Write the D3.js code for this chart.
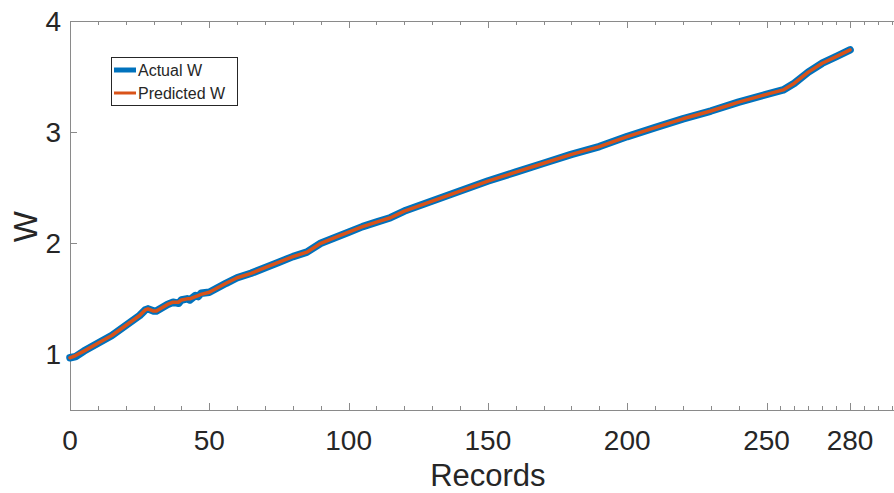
<!DOCTYPE html>
<html>
<head>
  <title>Actual vs Predicted W</title>
  <script src="https://cdn.jsdelivr.net/npm/d3@7/dist/d3.min.js"></script>
  <style>
    body { margin: 0; background: #fff; font-family: "Liberation Sans", Arial, sans-serif; overflow: hidden; }
  </style>
</head>
<body>
  <div id="container"></div>
  <script type="module">
    // values
    const records = [0, 2, 5, 10, 15, 20, 25, 27, 28, 30, 31, 33, 35, 37, 39, 40, 42, 43, 45, 46, 47, 50, 53, 56, 60,
      65, 70, 75, 80, 85, 90, 95, 100, 105, 110, 115, 120, 130, 140, 150, 160, 170, 180, 190, 200,
      210, 220, 230, 240, 250, 256, 260, 265, 270, 275, 280];
    const actualW = [0.97, 0.98, 1.03, 1.10, 1.17, 1.26, 1.35, 1.40, 1.41, 1.39, 1.39, 1.42, 1.45, 1.47, 1.46, 1.49, 1.50, 1.49, 1.53, 1.52, 1.55, 1.56, 1.60, 1.64, 1.69,
      1.73, 1.78, 1.83, 1.88, 1.92, 2.00, 2.05, 2.10, 2.15, 2.19, 2.23, 2.29, 2.38, 2.47, 2.56, 2.64, 2.72, 2.80, 2.87, 2.96,
      3.04, 3.12, 3.19, 3.27, 3.34, 3.38, 3.44, 3.54, 3.62, 3.68, 3.74];
    const predictedW = [0.97, 0.99, 1.03, 1.10, 1.17, 1.26, 1.35, 1.40, 1.41, 1.39, 1.39, 1.42, 1.45, 1.47, 1.47, 1.49, 1.50, 1.50, 1.52, 1.53, 1.54, 1.56, 1.60, 1.64, 1.69,
      1.73, 1.78, 1.83, 1.88, 1.92, 2.00, 2.05, 2.10, 2.15, 2.19, 2.23, 2.29, 2.38, 2.47, 2.56, 2.64, 2.72, 2.80, 2.87, 2.96,
      3.04, 3.12, 3.19, 3.27, 3.34, 3.38, 3.44, 3.54, 3.62, 3.68, 3.74];
    const xTicks = [0, 50, 100, 150, 200, 250, 280];
    const xMinor = [10, 20, 30, 40, 60, 70, 80, 90, 110, 120, 130, 140, 160, 170, 180, 190, 210, 220, 230, 240, 255, 260, 265, 270, 275, 285, 290, 295];
    const yTicks = [1, 2, 3, 4];
    const seriesNames = ["Actual W", "Predicted W"];

    const width = 894, height = 493;
    const left = 70, top = 21, bottom = 410;

    const svg = d3.select("#container").append("svg")
      .attr("width", width).attr("height", height);

    const x = d3.scaleLinear().domain([0, 300]).range([left, left + 300 * 2.786]);
    const y = d3.scaleLinear().domain([0.5, 4]).range([bottom, top]);

    const axisColor = "#8a8a8a";
    const textColor = "#262626";

    // box lines
    const plotRight = x(300);
    svg.append("line").attr("x1", left).attr("x2", plotRight).attr("y1", bottom + 0.5).attr("y2", bottom + 0.5)
      .attr("stroke", axisColor);
    svg.append("line").attr("x1", left).attr("x2", plotRight).attr("y1", top + 0.5).attr("y2", top + 0.5)
      .attr("stroke", axisColor);
    svg.append("line").attr("x1", left + 0.5).attr("x2", left + 0.5).attr("y1", top).attr("y2", bottom)
      .attr("stroke", axisColor);

    // ticks (pointing inward)
    const tickG = svg.append("g").attr("stroke", axisColor);
    [[xTicks, 7], [xMinor, 4]].forEach(([vals, len]) => {
      tickG.selectAll(null).data(vals).join("line")
        .attr("x1", d => Math.round(x(d)) + 0.5).attr("x2", d => Math.round(x(d)) + 0.5)
        .attr("y1", bottom).attr("y2", bottom - len);
      tickG.selectAll(null).data(vals).join("line")
        .attr("x1", d => Math.round(x(d)) + 0.5).attr("x2", d => Math.round(x(d)) + 0.5)
        .attr("y1", top).attr("y2", top + len);
    });
    tickG.selectAll(null).data(yTicks).join("line")
      .attr("x1", left).attr("x2", left + 7)
      .attr("y1", d => Math.round(y(d)) + 0.5).attr("y2", d => Math.round(y(d)) + 0.5);

    // tick labels
    svg.append("g").selectAll("text").data(xTicks).join("text")
      .attr("x", d => x(d)).attr("y", 450)
      .attr("text-anchor", "middle").attr("font-size", 28).attr("fill", textColor)
      .text(d => d);
    svg.append("g").selectAll("text").data(yTicks).join("text")
      .attr("x", 61).attr("y", d => y(d) + 10)
      .attr("text-anchor", "end").attr("font-size", 28).attr("fill", textColor)
      .text(d => d);

    // axis titles
    svg.append("text").attr("x", x(150)).attr("y", 486)
      .attr("text-anchor", "middle").attr("font-size", 31).attr("fill", textColor)
      .text("Records");
    svg.append("text").attr("transform", `translate(37,${y(2.15)}) rotate(-90)`)
      .attr("text-anchor", "middle").attr("font-size", 33).attr("fill", textColor)
      .text("W");

    // series
    const actual = records.map((r, i) => [r, actualW[i]]);
    const predicted = records.map((r, i) => [r, predictedW[i]]);
    const line = d3.line().x(d => x(d[0])).y(d => y(d[1]));

    svg.append("path").datum(actual).attr("d", line)
      .attr("fill", "none").attr("stroke", "#0072BD").attr("stroke-width", 7.5)
      .attr("stroke-linejoin", "round").attr("stroke-linecap", "round");
    svg.append("path").datum(predicted).attr("d", line)
      .attr("fill", "none").attr("stroke", "#D95319").attr("stroke-width", 3.5)
      .attr("stroke-linejoin", "round").attr("stroke-linecap", "round");

    // legend
    const lg = svg.append("g");
    lg.append("rect").attr("x", 111.5).attr("y", 57.5).attr("width", 126).attr("height", 48)
      .attr("fill", "#fff").attr("stroke", textColor).attr("stroke-width", 1);
    const legendColors = ["#0072BD", "#D95319"];
    const legendWidths = [5, 3];
    seriesNames.forEach((name, i) => {
      const ly = 70 + i * 23;
      lg.append("line").attr("x1", 114).attr("x2", 136).attr("y1", ly).attr("y2", ly)
        .attr("stroke", legendColors[i]).attr("stroke-width", legendWidths[i]);
      lg.append("text").attr("x", 138).attr("y", ly + 6)
        .attr("font-size", 16).attr("fill", textColor).text(name);
    });
  </script>
</body>
</html>
